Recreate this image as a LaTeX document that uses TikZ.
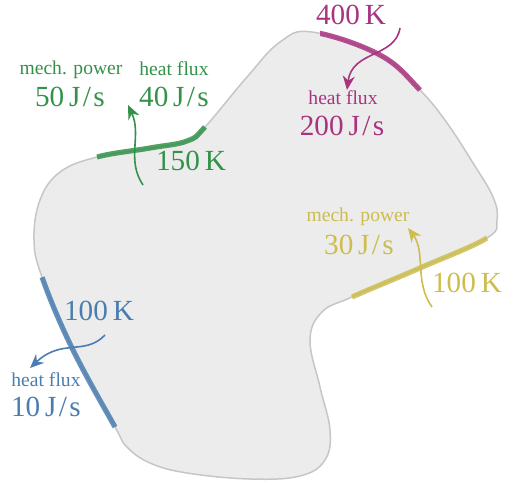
\documentclass[tikz,border=0pt]{standalone}
\usepackage{fontspec}
\setmainfont{Liberation Serif}
\usetikzlibrary{arrows.meta}

\definecolor{hotpurple}{HTML}{A8337F}
\definecolor{warmgreen}{HTML}{33914A}
\definecolor{coldblue}{HTML}{4A7DB0}
\definecolor{coldyellow}{HTML}{CDBD4E}
\definecolor{blobfill}{HTML}{ECECEC}
\definecolor{blobline}{HTML}{C6C6C6}

\tikzset{
  small/.style={font=\fontsize{9.8}{12}\selectfont, inner sep=0pt},
  big/.style={font=\fontsize{14.6}{16}\selectfont, inner sep=0pt},
  reservoir/.style={line width=2.6pt, opacity=0.85},
  flux/.style={-{Stealth[length=7pt,width=6pt]}, line width=0.8pt},
}
\newcommand{\Js}{J\kern1.2pt/\kern1.2pt s}

% outline of the system, pixel coordinates
\def\blob{plot[smooth cycle, tension=0.65] coordinates {
  (312,32) (380,55) (420,90) (447,123) (473,163) (493,197) (497,220)
  (487,238) (420,268) (352,297) (322,312) (310,340) (320,387) (330,430)
  (325,460) (300,476) (250,479) (187,473) (150,463) (127,447) (115,427)
  (72,348) (42,277) (34,240) (40,200) (60,172) (97,157) (150,148)
  (187,141) (205,127) (247,77) (280,42)}}

\begin{document}
\begin{tikzpicture}[x=0.5pt, y=-0.5pt]
\useasboundingbox (0,0) rectangle (512,482);

\draw[blobline, fill=blobfill, line width=0.75pt] \blob;

% reservoirs on the boundary
\begin{scope}
  \clip (320,0) -- (320,70) -- (392,115) -- (448,65) -- (448,0) -- cycle;
  \draw[reservoir, hotpurple] \blob;
\end{scope}
\begin{scope}
  \clip (92,132) -- (102,182) -- (227,147) -- (183,107) -- cycle;
  \draw[reservoir, warmgreen] \blob;
\end{scope}
\begin{scope}
  \clip (472,208) -- (502,268) -- (366,332) -- (338,262) -- cycle;
  \draw[reservoir, coldyellow] \blob;
\end{scope}
\begin{scope}
  \clip (12,288) -- (82,263) -- (145,412) -- (85,442) -- cycle;
  \draw[reservoir, coldblue] \blob;
\end{scope}

% hot reservoir
\node[big, hotpurple] (hotT) at (351,15) {400\,K};
\node[small, hotpurple] (hotlabel) at (343,98) {heat flux};
\node[big, hotpurple] (hotval) at (342,126) {200\,\Js};
\coordinate (hotsrc) at (400,28);
\coordinate (hottip) at (347,90);
\draw[flux, hotpurple] (hotsrc) .. controls (395,58) and (352,50) .. (hottip);

% warm reservoir
\node[big, warmgreen] (warmT) at (191,161) {150\,K};
\node[small, warmgreen] (warmmech) at (71,70) {mech. power};
\node[big, warmgreen] (warmmechval) at (70,97) {50\,\Js};
\node[small, warmgreen] (warmlabel) at (174,69) {heat flux};
\node[big, warmgreen] (warmval) at (174,97) {40\,\Js};
\coordinate (warmsrc) at (143,185);
\coordinate (warmtip) at (128,105);
\draw[flux, warmgreen] (warmsrc) .. controls (126,160) and (142,135) .. (warmtip);

% cold reservoir, right
\node[big, coldyellow] (yellowT) at (467,283) {100\,K};
\node[small, coldyellow] (yellowmech) at (358,217) {mech. power};
\node[big, coldyellow] (yellowval) at (359,245) {30\,\Js};
\coordinate (yellowsrc) at (432,307);
\coordinate (yellowtip) at (408,228);
\draw[flux, coldyellow] (yellowsrc) .. controls (414,282) and (426,252) .. (yellowtip);

% cold reservoir, left
\node[big, coldblue] (blueT) at (99,311) {100\,K};
\node[small, coldblue] (bluelabel) at (46,380) {heat flux};
\node[big, coldblue] (blueval) at (46,407) {10\,\Js};
\coordinate (bluesrc) at (105,335);
\coordinate (bluetip) at (30,368);
\draw[flux, coldblue] (bluesrc) .. controls (85,356) and (62,338) .. (bluetip);

\end{tikzpicture}
\end{document}
